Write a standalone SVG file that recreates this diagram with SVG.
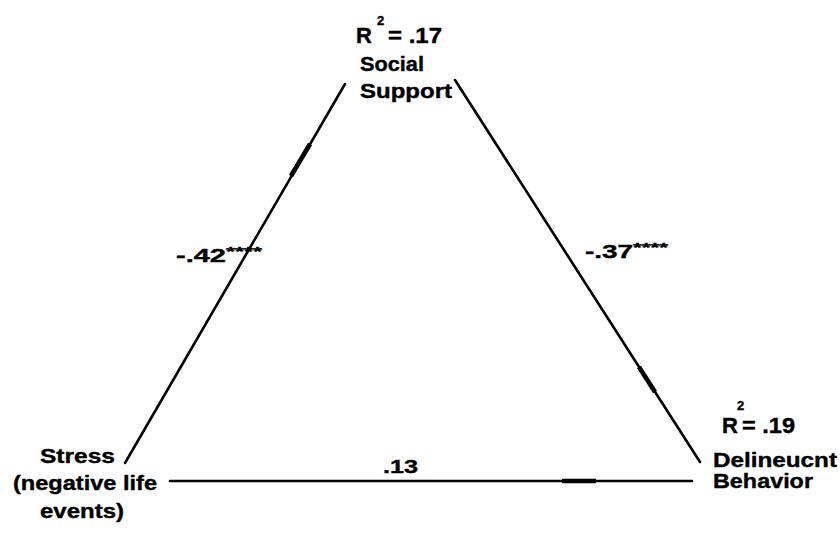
<svg xmlns="http://www.w3.org/2000/svg" width="840" height="533" viewBox="0 0 840 533">
<style>
text{font-family:"Liberation Sans",Arial,sans-serif;font-weight:bold;fill:#000;stroke:#000;stroke-width:0.4}
.lbl{font-size:21px}
.big{font-size:22px}
.sup{font-size:13px}
.coef{font-size:19px}
.ast{font-size:13px}
.edge{stroke:#000;stroke-width:2.6;fill:none;stroke-linecap:round}
.head{stroke:#000;stroke-width:4.6;fill:none;stroke-linecap:butt}
</style>
<rect width="840" height="533" fill="#fff"/>
<g id="connectors">
<line class="edge" x1="125" y1="463" x2="345" y2="84"/>
<line class="head" x1="291" y1="176" x2="310" y2="144"/>
<line class="edge" x1="455" y1="80" x2="700" y2="462"/>
<line class="head" x1="639" y1="367" x2="655" y2="392"/>
<line class="edge" x1="170" y1="481" x2="692" y2="481"/>
<line class="head" x1="562" y1="481" x2="596" y2="481"/>
<text class="coef" x="176" y="262" textLength="50" lengthAdjust="spacingAndGlyphs">-.42</text>
<text class="ast" x="226" y="256" textLength="36" lengthAdjust="spacingAndGlyphs">****</text>
<text class="coef" x="585" y="258" textLength="48" lengthAdjust="spacingAndGlyphs">-.37</text>
<text class="ast" x="633" y="252" textLength="35" lengthAdjust="spacingAndGlyphs">****</text>
<text class="coef" x="383" y="473" textLength="35" lengthAdjust="spacingAndGlyphs">.13</text>
</g>
<g id="social-support">
<text class="big" x="356" y="43">R</text>
<text class="sup" x="377" y="25">2</text>
<text class="big" x="388" y="43" textLength="54" lengthAdjust="spacingAndGlyphs">= .17</text>
<text class="lbl" x="360" y="71" textLength="64" lengthAdjust="spacingAndGlyphs">Social</text>
<text class="lbl" x="360" y="98" textLength="92" lengthAdjust="spacingAndGlyphs">Support</text>
</g>
<g id="stress">
<text class="lbl" x="40" y="463" textLength="75" lengthAdjust="spacingAndGlyphs">Stress</text>
<text class="lbl" x="13" y="490" textLength="144" lengthAdjust="spacingAndGlyphs">(negative life</text>
<text class="lbl" x="40" y="518" textLength="84" lengthAdjust="spacingAndGlyphs">events)</text>
</g>
<g id="delinquent-behavior">
<text class="big" x="722" y="433">R</text>
<text class="sup" x="737" y="410">2</text>
<text class="big" x="742" y="433" textLength="53" lengthAdjust="spacingAndGlyphs">= .19</text>
<text class="lbl" x="713" y="467" textLength="124" lengthAdjust="spacingAndGlyphs">Delineucnt</text>
<text class="lbl" x="713" y="488" textLength="100" lengthAdjust="spacingAndGlyphs">Behavior</text>
</g>
</svg>
